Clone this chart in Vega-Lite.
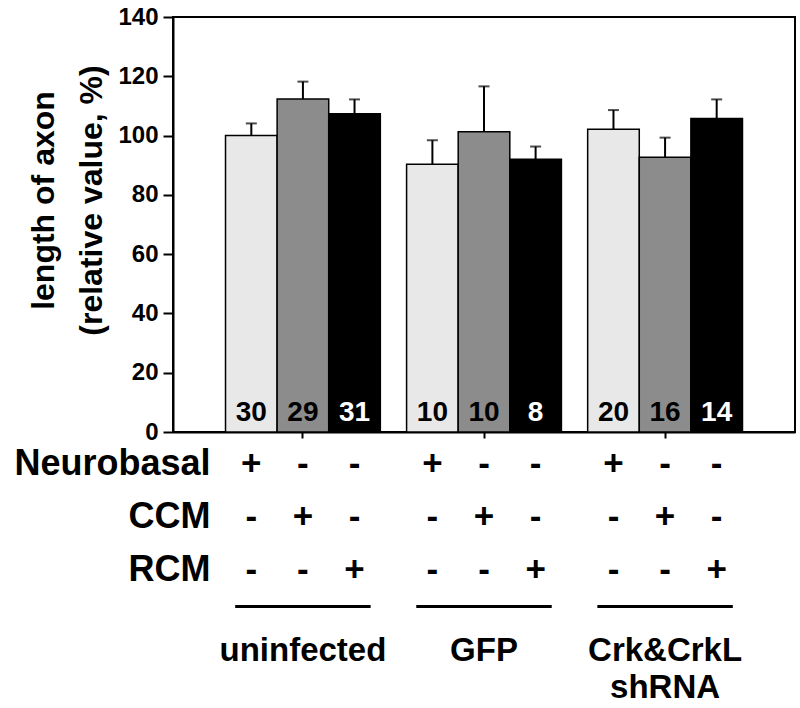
{
  "$schema": "https://vega.github.io/schema/vega-lite/v6.json",
  "padding": {"left": 13, "top": 4, "right": 5, "bottom": 3},
  "spacing": 0,
  "config": {
    "font": "Liberation Sans",
    "view": {"stroke": null},
    "axis": {"labelFontWeight": "bold", "titleFontWeight": "bold", "labelColor": "black", "titleColor": "black", "domainColor": "black", "tickColor": "black", "grid": false, "labelLimit": 0}
  },
  "datasets": {
    "bars": [
      {"group": "uninfected", "cond": "Neurobasal", "mean": 100.0, "upper": 104.1, "n": 30},
      {"group": "uninfected", "cond": "CCM", "mean": 112.3, "upper": 118.2, "n": 29},
      {"group": "uninfected", "cond": "RCM", "mean": 107.4, "upper": 112.2, "n": 31},
      {"group": "GFP", "cond": "Neurobasal", "mean": 90.3, "upper": 98.4, "n": 10},
      {"group": "GFP", "cond": "CCM", "mean": 101.3, "upper": 116.6, "n": 10},
      {"group": "GFP", "cond": "RCM", "mean": 92.0, "upper": 96.3, "n": 8},
      {"group": "Crk&CrkL shRNA", "cond": "Neurobasal", "mean": 102.1, "upper": 108.6, "n": 20},
      {"group": "Crk&CrkL shRNA", "cond": "CCM", "mean": 92.7, "upper": 99.3, "n": 16},
      {"group": "Crk&CrkL shRNA", "cond": "RCM", "mean": 105.8, "upper": 112.2, "n": 14}
    ],
    "signs": [
      {"group": "uninfected", "cond": "Neurobasal", "row": "Neurobasal", "sign": "+"},
      {"group": "uninfected", "cond": "Neurobasal", "row": "CCM", "sign": "-"},
      {"group": "uninfected", "cond": "Neurobasal", "row": "RCM", "sign": "-"},
      {"group": "uninfected", "cond": "CCM", "row": "Neurobasal", "sign": "-"},
      {"group": "uninfected", "cond": "CCM", "row": "CCM", "sign": "+"},
      {"group": "uninfected", "cond": "CCM", "row": "RCM", "sign": "-"},
      {"group": "uninfected", "cond": "RCM", "row": "Neurobasal", "sign": "-"},
      {"group": "uninfected", "cond": "RCM", "row": "CCM", "sign": "-"},
      {"group": "uninfected", "cond": "RCM", "row": "RCM", "sign": "+"},
      {"group": "GFP", "cond": "Neurobasal", "row": "Neurobasal", "sign": "+"},
      {"group": "GFP", "cond": "Neurobasal", "row": "CCM", "sign": "-"},
      {"group": "GFP", "cond": "Neurobasal", "row": "RCM", "sign": "-"},
      {"group": "GFP", "cond": "CCM", "row": "Neurobasal", "sign": "-"},
      {"group": "GFP", "cond": "CCM", "row": "CCM", "sign": "+"},
      {"group": "GFP", "cond": "CCM", "row": "RCM", "sign": "-"},
      {"group": "GFP", "cond": "RCM", "row": "Neurobasal", "sign": "-"},
      {"group": "GFP", "cond": "RCM", "row": "CCM", "sign": "-"},
      {"group": "GFP", "cond": "RCM", "row": "RCM", "sign": "+"},
      {"group": "Crk&CrkL shRNA", "cond": "Neurobasal", "row": "Neurobasal", "sign": "+"},
      {"group": "Crk&CrkL shRNA", "cond": "Neurobasal", "row": "CCM", "sign": "-"},
      {"group": "Crk&CrkL shRNA", "cond": "Neurobasal", "row": "RCM", "sign": "-"},
      {"group": "Crk&CrkL shRNA", "cond": "CCM", "row": "Neurobasal", "sign": "-"},
      {"group": "Crk&CrkL shRNA", "cond": "CCM", "row": "CCM", "sign": "+"},
      {"group": "Crk&CrkL shRNA", "cond": "CCM", "row": "RCM", "sign": "-"},
      {"group": "Crk&CrkL shRNA", "cond": "RCM", "row": "Neurobasal", "sign": "-"},
      {"group": "Crk&CrkL shRNA", "cond": "RCM", "row": "CCM", "sign": "-"},
      {"group": "Crk&CrkL shRNA", "cond": "RCM", "row": "RCM", "sign": "+"}
    ]
  },
  "resolve": {"scale": {"x": "independent", "y": "independent", "xOffset": "independent"}},
  "vconcat": [
    {
      "width": 622,
      "height": 415,
      "view": {"stroke": "black", "strokeWidth": 2},
      "data": {"name": "bars"},
      "encoding": {
        "x": {
          "field": "group", "type": "nominal",
          "scale": {"domain": ["uninfected", "GFP", "Crk&CrkL shRNA"], "paddingInner": 0.145, "paddingOuter": 0.29},
          "axis": {"title": null, "labels": false, "tickSize": 6, "tickWidth": 2, "domainWidth": 2}
        },
        "xOffset": {
          "field": "cond", "type": "nominal",
          "scale": {"domain": ["Neurobasal", "CCM", "RCM"], "paddingInner": 0, "paddingOuter": 0}
        }
      },
      "layer": [
        {
          "mark": {"type": "bar", "stroke": "black", "strokeWidth": 1.5},
          "encoding": {
            "y": {
              "field": "mean", "type": "quantitative",
              "scale": {"domain": [0, 140], "nice": false},
              "axis": {
                "values": [0, 10, 20, 30, 40, 50, 60, 70, 80, 90, 100, 110, 120, 130, 140],
                "labelExpr": "datum.value % 20 === 0 ? datum.label : ''",
                "tickSize": {"condition": {"test": "datum.value % 20 === 0", "value": 10}, "value": 5},
                "tickWidth": 2, "domainWidth": 2,
                "labelFontSize": 24, "labelPadding": 5, "labelFlush": false, "labelOverlap": false,
                "title": ["length of axon", "(relative value, %)"],
                "titleFontSize": 32, "titleLineHeight": 48,
                "titleX": -113, "titleY": 183, "titleBaseline": "bottom"
              }
            },
            "fill": {
              "field": "cond", "type": "nominal",
              "scale": {"domain": ["Neurobasal", "CCM", "RCM"], "range": ["#e8e8e8", "#8c8c8c", "#000000"]},
              "legend": null
            }
          }
        },
        {
          "mark": {"type": "rule", "strokeWidth": 2, "color": "black"},
          "encoding": {
            "y": {"field": "mean", "type": "quantitative"},
            "y2": {"field": "upper"}
          }
        },
        {
          "mark": {"type": "tick", "thickness": 2, "size": 11, "color": "black"},
          "encoding": {
            "y": {"field": "upper", "type": "quantitative"}
          }
        },
        {
          "mark": {"type": "text", "fontSize": 28, "fontWeight": "bold", "baseline": "alphabetic", "dy": -11},
          "encoding": {
            "y": {"datum": 0, "type": "quantitative"},
            "text": {"field": "n", "type": "nominal"},
            "color": {"condition": {"test": "datum.cond === 'RCM'", "value": "white"}, "value": "black"}
          }
        }
      ]
    },
    {
      "width": 622,
      "height": 159,
      "data": {"name": "signs"},
      "mark": {"type": "text", "fontSize": 35, "fontWeight": "bold", "dy": -9},
      "encoding": {
        "x": {
          "field": "group", "type": "nominal",
          "scale": {"type": "band", "domain": ["uninfected", "GFP", "Crk&CrkL shRNA"], "paddingInner": 0.145, "paddingOuter": 0.29},
          "axis": null
        },
        "xOffset": {
          "field": "cond", "type": "nominal",
          "scale": {"type": "band", "domain": ["Neurobasal", "CCM", "RCM"], "paddingInner": 0, "paddingOuter": 0}
        },
        "y": {
          "field": "row", "type": "nominal",
          "scale": {"type": "band", "domain": ["Neurobasal", "CCM", "RCM"], "paddingInner": 0, "paddingOuter": 0},
          "axis": {"title": null, "domain": false, "ticks": false, "labelFontSize": 36, "offset": -37, "labelPadding": 0, "labelOffset": -9}
        },
        "text": {"field": "sign", "type": "nominal"}
      }
    },
    {
      "width": 622,
      "height": 3,
      "data": {"name": "bars"},
      "transform": [{"filter": "datum.cond === 'CCM'"}],
      "mark": {"type": "bar", "color": "black", "width": {"band": 0.875}},
      "encoding": {
        "x": {
          "field": "group", "type": "nominal",
          "scale": {"domain": ["uninfected", "GFP", "Crk&CrkL shRNA"], "paddingInner": 0.145, "paddingOuter": 0.29},
          "axis": {"title": null, "domain": false, "ticks": false, "labelAngle": 0, "labelExpr": "split(datum.label, ' ')", "labelFontSize": 33, "labelPadding": 26, "labelLineHeight": 37, "labelBaseline": "top"}
        },
        "y": {"datum": "line", "type": "nominal", "scale": {"paddingInner": 0, "paddingOuter": 0}, "axis": null}
      }
    }
  ]
}
